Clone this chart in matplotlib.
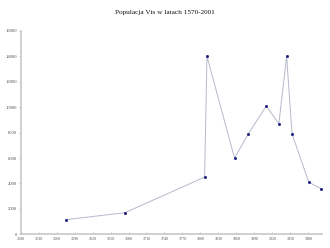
import matplotlib
matplotlib.use("Agg")
import matplotlib.pyplot as plt

# dane
years = [1575, 1674, 1807, 1811, 1857, 1880, 1910, 1931, 1944, 1953, 1981, 2001]
population = [1150, 1700, 4500, 14000, 6000, 7900, 10100, 8700, 14000, 7900, 4100, 3600]

x_ticks = list(range(1500, 2001, 30))
y_ticks = list(range(0, 16001, 2000))

fig = plt.figure(figsize=(3.3, 2.48), dpi=100)
ax = fig.add_axes([0.0627, 0.0552, 0.913, 0.82])

ax.plot(years, population, color="#b8b8cc", linewidth=0.7, zorder=2)
ax.plot(years, population, linestyle="none", marker="s", markersize=1.0,
        color="#1a1a80", zorder=3)

ax.set_xlim(1500, 2003)
ax.set_ylim(0, 16000)
ax.set_xticks(x_ticks)
ax.set_yticks(y_ticks)
ax.set_xticklabels([str(t) for t in x_ticks], fontsize=3.0, family="Liberation Serif", color="#555555")
ax.set_yticklabels([str(t) for t in y_ticks], fontsize=3.4, family="Liberation Serif", color="#555555")
ax.tick_params(axis="x", direction="in", length=1.5, width=0.4, color="#999999", pad=2)
ax.tick_params(axis="y", direction="out", length=1.5, width=0.4, color="#999999", pad=1)

for side in ("top", "right"):
    ax.spines[side].set_visible(False)
for side in ("left", "bottom"):
    ax.spines[side].set_color("#c8c8c8")
    ax.spines[side].set_linewidth(1.2)

fig.text(0.5, 0.948, "Populacja Vis w latach 1570-2001", ha="center", va="center",
         fontsize=5.2, family="Liberation Serif", color="#111111")

fig.savefig("out.png", dpi=100)
